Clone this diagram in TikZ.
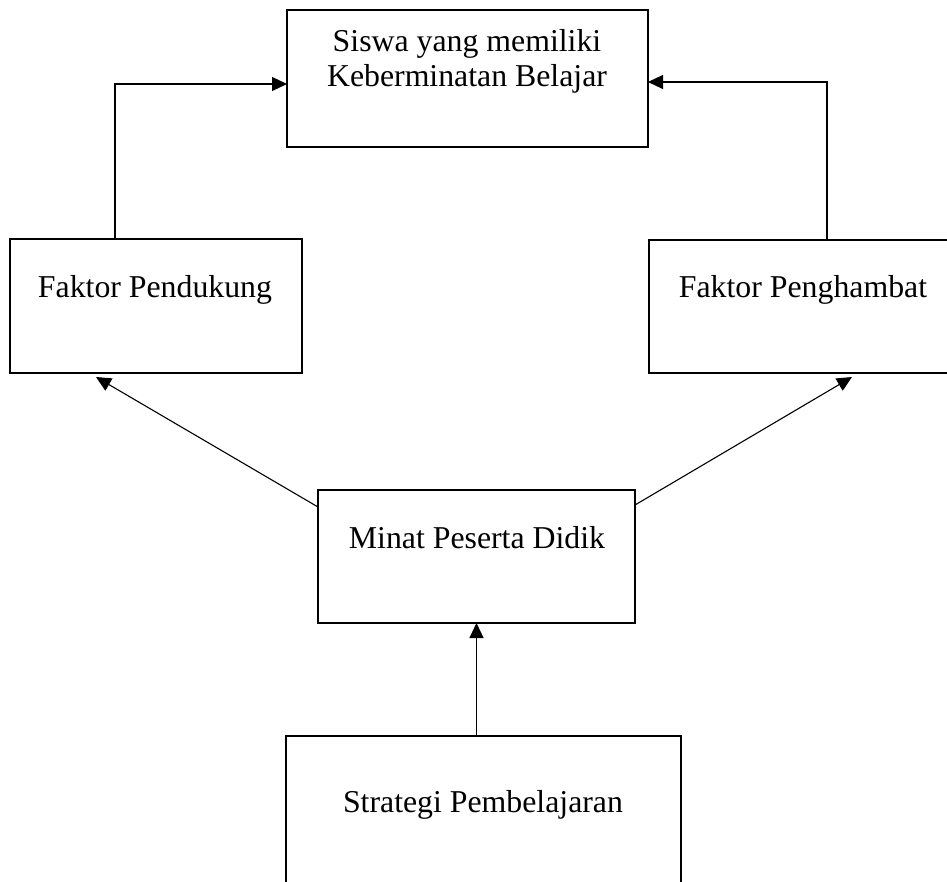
\documentclass[tikz,border=0pt]{standalone}
\usepackage{fontspec}
\setmainfont{Liberation Serif}
\usetikzlibrary{arrows.meta}
\begin{document}
\begin{tikzpicture}[x=1pt,y=-1pt,
  box/.style={draw,line width=2.4pt,inner sep=0pt,outer sep=0pt},
  lbl/.style={anchor=base,inner sep=0pt,font=\fontsize{31.8}{36}\selectfont},
  arr/.style={line width=1.1pt,-{Triangle[length=15pt,width=14pt]}},
  conn/.style={line width=1.1pt}]
\useasboundingbox (0,0) rectangle (947,882);
\clip (0,0) rectangle (947,882);
\fill[white] (0,0) rectangle (947,882);
% boxes
\node[box,minimum width=361pt,minimum height=137pt] (tbox) at (467.5,78.5) {};
\node[box,minimum width=292pt,minimum height=134pt] (lbox) at (156,306) {};
\node[box,minimum width=308pt,minimum height=133pt] (rbox) at (803,306.5) {};
\node[box,minimum width=317pt,minimum height=133pt] (mbox) at (476.5,556.5) {};
\node[box,minimum width=395pt,minimum height=160pt] (bbox) at (483.5,816) {};
% labels
\node[lbl] (t1) at (467,52) {Siswa yang memiliki};
\node[lbl] (t2) at (467,87) {Keberminatan Belajar};
\node[lbl] (l1) at (155,298) {Faktor Pendukung};
\node[lbl] (r1) at (803,298) {Faktor Penghambat};
\node[lbl] (m1) at (477,548) {Minat Peserta Didik};
\node[lbl] (b1) at (483,812) {Strategi Pembelajaran};
% connectors
\draw[arr] ([xshift=-41pt]lbox.north) |- ([yshift=-5.5pt]tbox.west);
\draw[arr] ([xshift=24pt]rbox.north) |- ([yshift=-3.5pt]tbox.east);
\draw[arr] ([yshift=-17pt]mbox.north west) -- ([xshift=-60pt,yshift=-4pt]lbox.south);
\draw[arr] ([yshift=-15pt]mbox.north east) -- ([xshift=49pt,yshift=-4pt]rbox.south);
\draw[arr] (mbox.south |- bbox.north) -- (mbox.south);
\end{tikzpicture}
\end{document}
